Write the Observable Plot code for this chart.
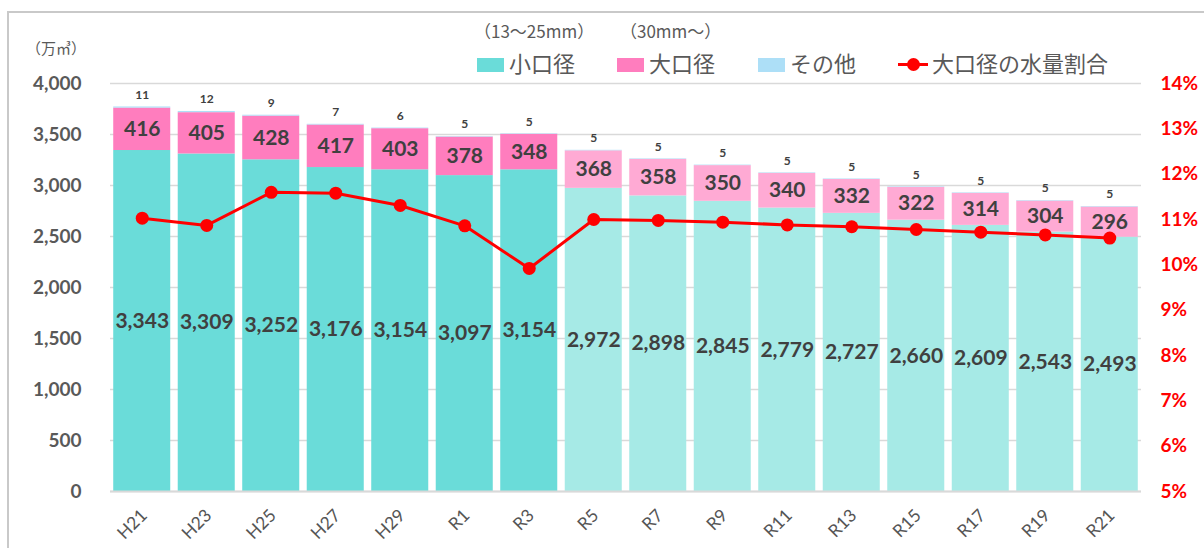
<!DOCTYPE html>
<html>
<head>
<meta charset="utf-8">
<script src="https://cdn.jsdelivr.net/npm/d3@7"></script>
<script src="https://cdn.jsdelivr.net/npm/@observablehq/plot@0.6"></script>
<style>
  html, body { margin: 0; padding: 0; background: #fff; }
  #wrap { position: relative; width: 1204px; height: 548px; overflow: hidden; background: #fff; }
  #frame { position: absolute; left: 7px; top: 11px; width: 1300px; height: 700px; border-left: 2px solid #c9c9c9; border-top: 2px solid #c9c9c9; }
  #chart { position: absolute; left: 0; top: 0; }
  .lg { position: absolute; font-family: "Noto Sans CJK JP", sans-serif; color: #595959; white-space: nowrap; line-height: 1; }
  .sw { position: absolute; width: 27px; height: 14px; }
</style>
</head>
<body>
<div id="wrap">
  <div id="frame"></div>
  <div id="chart"></div>
  <div class="lg" style="left:26px; top:40px; font-size:15px;">（万㎥）</div>
  <div class="lg" style="left:474px; top:22px; font-size:17px;">（13～25mm）</div>
  <div class="lg" style="left:620px; top:22px; font-size:17px;">（30mm～）</div>
  <div class="sw" style="left:477px; top:58px; background:#6ADCD9;"></div>
  <div class="lg" style="left:509px; top:51px; font-size:22px;">小口径</div>
  <div class="sw" style="left:617px; top:58px; background:#FF7DBE;"></div>
  <div class="lg" style="left:649px; top:51px; font-size:22px;">大口径</div>
  <div class="sw" style="left:758px; top:58px; background:#ADDFF7;"></div>
  <div class="lg" style="left:790px; top:51px; font-size:22px;">その他</div>
  <div style="position:absolute; left:898px; top:63px; width:30px; height:3px; background:#FF0000;"></div>
  <div style="position:absolute; left:907px; top:58px; width:13px; height:13px; border-radius:50%; background:#FF0000;"></div>
  <div class="lg" style="left:932px; top:51px; font-size:22px;">大口径の水量割合</div>
</div>
<script>
const years = ["H21","H23","H25","H27","H29","R1","R3","R5","R7","R9","R11","R13","R15","R17","R19","R21"];
const small = [3343,3309,3252,3176,3154,3097,3154,2972,2898,2845,2779,2727,2660,2609,2543,2493];
const large = [416,405,428,417,403,378,348,368,358,350,340,332,322,314,304,296];
const other = [11,12,9,7,6,5,5,5,5,5,5,5,5,5,5,5];
const ratio = [11.03,10.87,11.60,11.58,11.31,10.86,9.92,11.00,10.98,10.94,10.88,10.84,10.78,10.72,10.66,10.59];
const leftTicks = [0,500,1000,1500,2000,2500,3000,3500,4000];
const rightTicks = [5,6,7,8,9,10,11,12,13,14];
const firstForecast = "R5";

const colorsActual = {small: "#6ADCD9", large: "#FF7DBE", other: "#ADDFF7"};
const colorsForecast = {small: "#A6EAE6", large: "#FFAAD4", other: "#ADDFF7"};

const fi = years.indexOf(firstForecast);
const rows = [];
const labels = [];
years.forEach((yr, i) => {
  const pal = i >= fi ? colorsForecast : colorsActual;
  let base = 0;
  [["small", small[i]], ["large", large[i]], ["other", other[i]]].forEach(([k, v]) => {
    rows.push({year: yr, key: k, y1: base, y2: base + v, color: pal[k]});
    labels.push({year: yr, key: k, v, mid: base + v / 2, top: base + v});
    base += v;
  });
});
// map percent onto left-axis units
const pctToY = p => (p - 5) / 9 * 4000;
const yToPct = y => y / 4000 * 9 + 5;
const ratioRows = years.map((yr, i) => ({year: yr, y: pctToY(ratio[i])}));

const numFont = "Lato, 'Noto Sans', sans-serif";
const chart = Plot.plot({
  width: 1204,
  height: 548,
  marginLeft: 110,
  marginRight: 63,
  marginTop: 83,
  marginBottom: 57,
  style: {background: "transparent", fontFamily: numFont},
  x: {domain: years, paddingInner: 0.116, paddingOuter: 0.05, round: false, label: null},
  y: {domain: [0, 4000], label: null},
  color: {type: "identity"},
  marks: [
    Plot.gridY(leftTicks, {stroke: "#d9d9d9", strokeOpacity: 1, strokeWidth: 1.3}),
    Plot.barY(rows, {x: "year", y1: "y1", y2: "y2", fill: "color"}),
    Plot.ruleY([0], {stroke: "#d9d9d9", strokeWidth: 2}),
    Plot.axisY(leftTicks, {anchor: "left", tickSize: 0, tickPadding: 29, tickFormat: d3.format(","),
      fontSize: 19, fontWeight: "bold", fill: "#595959", label: null}),
    Plot.axisY(rightTicks.map(pctToY), {anchor: "right", tickSize: 0, tickPadding: 19,
      tickFormat: d => Math.round(yToPct(d)) + "%", fontSize: 19, fontWeight: "bold", fill: "#FF0000", label: null}),
    Plot.axisX({tickSize: 0, tickRotate: -45, tickPadding: 21, fontSize: 17.5, fill: "#555555", label: null, dx: 2}),
    Plot.text(labels.filter(d => d.key === "small"), {x: "year", y: "mid", text: d => d3.format(",")(d.v),
      fontSize: 21, fontWeight: "bold", fill: "#404040"}),
    Plot.text(labels.filter(d => d.key === "large"), {x: "year", y: "mid", text: d => d3.format(",")(d.v),
      fontSize: 21, fontWeight: "bold", fill: "#404040"}),
    Plot.text(labels.filter(d => d.key === "other"), {x: "year", y: "top", text: d => String(d.v),
      fontSize: 12, fontWeight: "bold", fill: "#404040", dy: -12}),
    Plot.line(ratioRows, {x: "year", y: "y", stroke: "#FF0000", strokeWidth: 3}),
    Plot.dot(ratioRows, {x: "year", y: "y", r: 6.5, fill: "#FF0000", stroke: "none"})
  ]
});
document.getElementById("chart").appendChild(chart);
</script>
</body>
</html>
